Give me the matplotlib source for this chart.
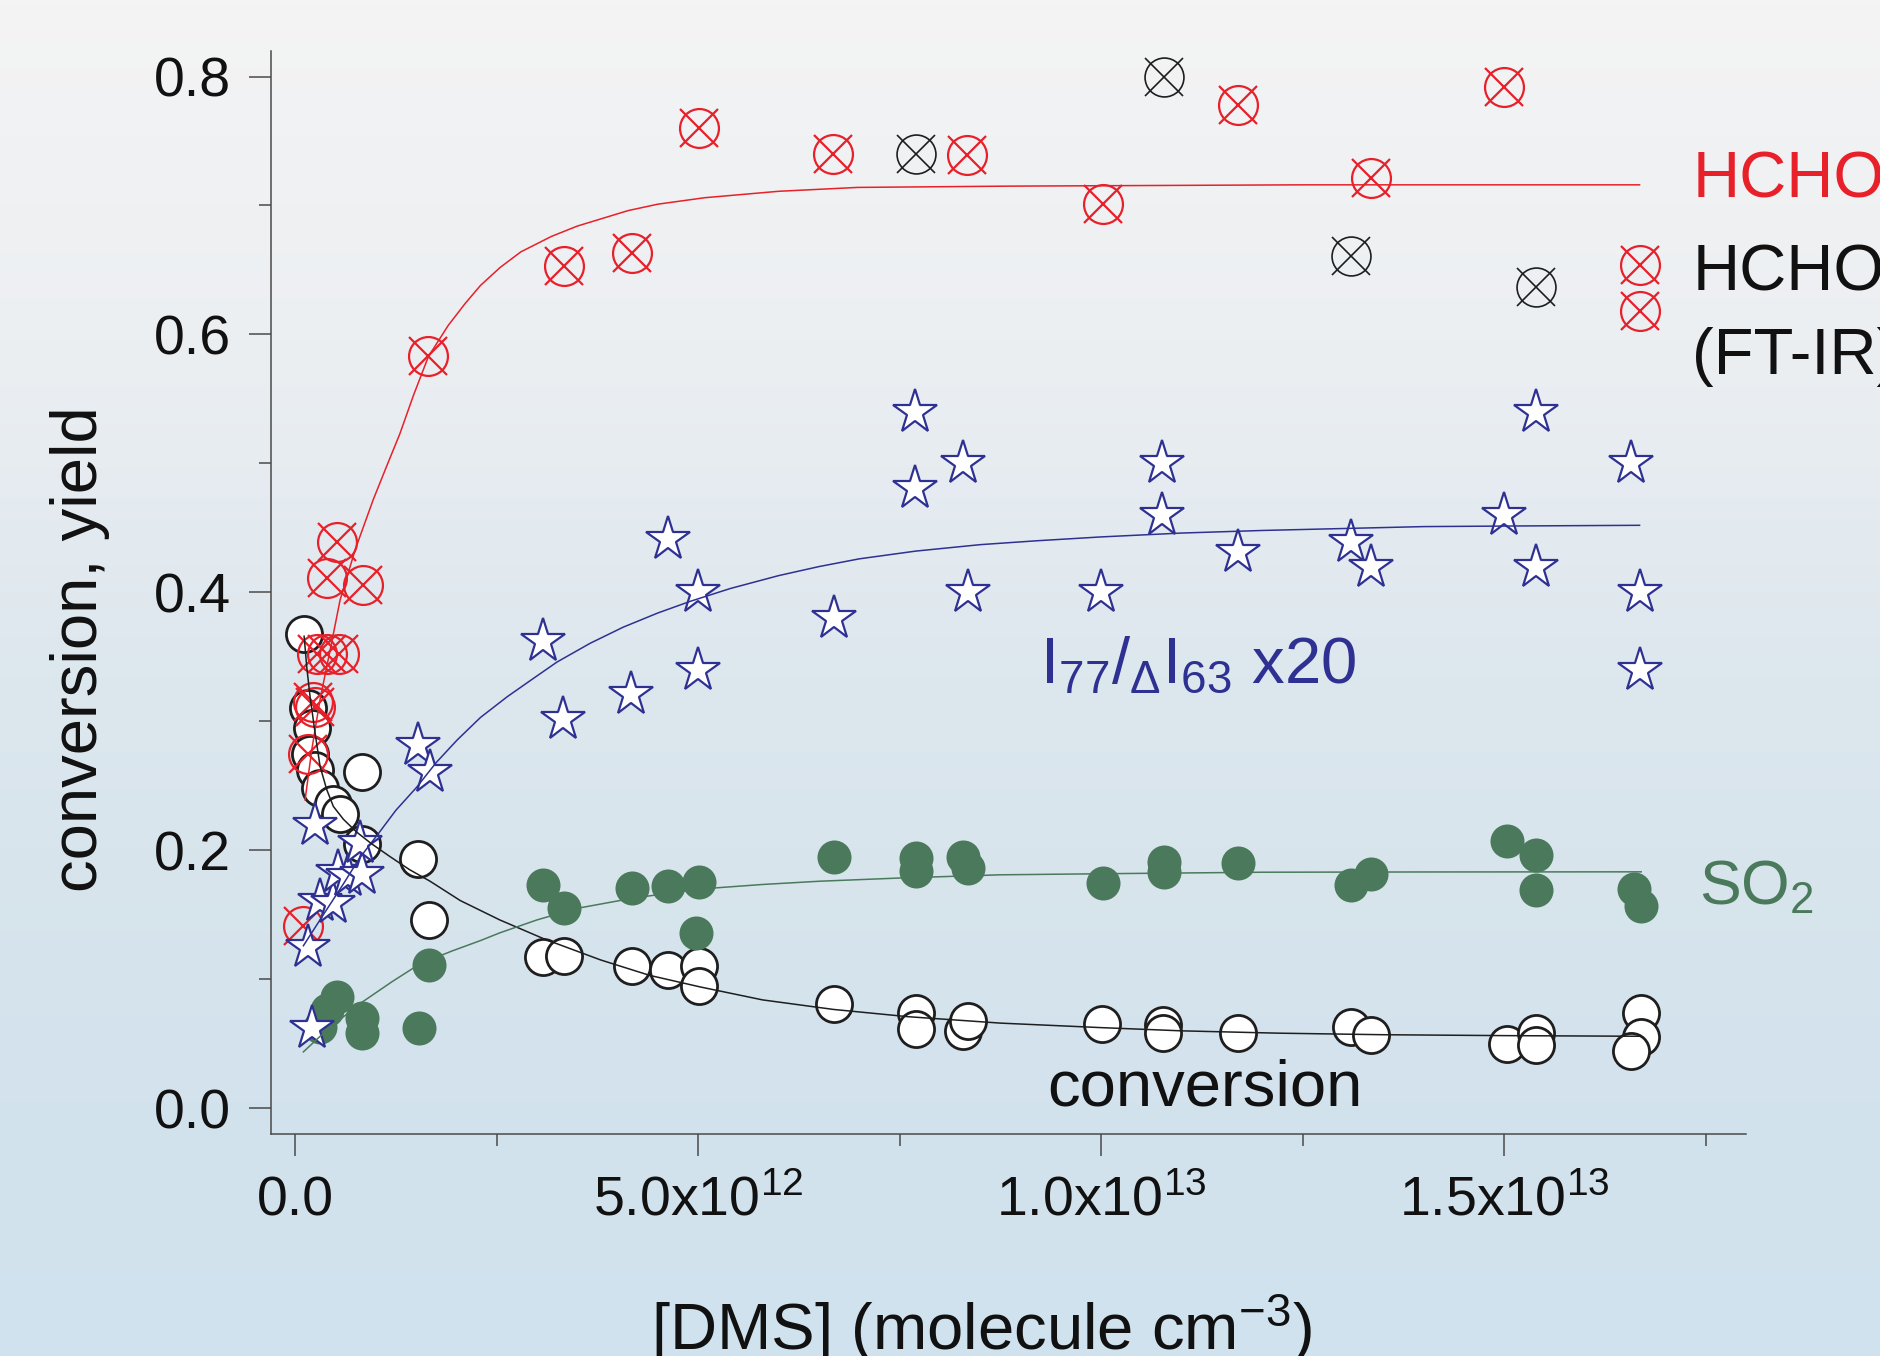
import numpy as np
import matplotlib
matplotlib.use("Agg")
import matplotlib.pyplot as plt
from matplotlib.ticker import FixedLocator

plt.rcParams['font.family'] = ['Liberation Sans', 'DejaVu Sans']
plt.rcParams['mathtext.fontset'] = 'custom'
plt.rcParams['mathtext.rm'] = 'Liberation Sans'
plt.rcParams['mathtext.it'] = 'Liberation Sans:italic'
plt.rcParams['mathtext.bf'] = 'Liberation Sans:bold'

# [DMS] in units of 1e12 molecule cm^-3
# HCHO yield (FT-IR), red crossed circles
hcho_x = [0.103, 0.165, 0.227, 0.248, 0.27, 0.40, 0.55, 0.393, 0.517, 0.848,
          1.655, 3.34, 4.18, 5.01, 6.67, 8.34, 10.02, 11.70, 13.35, 15.0]
hcho_y = [0.141, 0.275, 0.315, 0.311, 0.352, 0.352, 0.352, 0.411, 0.439, 0.406,
          0.583, 0.653, 0.663, 0.760, 0.740, 0.739, 0.701, 0.778, 0.721, 0.792]
# HCHO, second set (black crossed circles)
hcho2_x = [7.70, 10.78, 13.10, 15.39]
hcho2_y = [0.740, 0.800, 0.661, 0.637]

# I77/dI63 x20, blue stars
star_x = [0.207, 0.165, 0.31, 0.475, 0.537, 0.66, 0.828, 0.807, 0.248,
          1.53, 1.675, 3.08, 3.33, 4.17, 4.63, 5.0, 5.0, 6.68, 7.69, 7.69,
          8.29, 8.35, 10.0, 10.76, 10.76, 11.70, 13.10, 13.35, 15.0, 15.39,
          15.39, 16.58, 16.68, 16.68]
star_y = [0.062, 0.125, 0.161, 0.159, 0.183, 0.180, 0.182, 0.206, 0.220,
          0.282, 0.261, 0.362, 0.302, 0.321, 0.441, 0.400, 0.340, 0.380, 0.540, 0.481,
          0.500, 0.400, 0.400, 0.500, 0.460, 0.431, 0.439, 0.420, 0.460, 0.540,
          0.420, 0.500, 0.400, 0.340]

# SO2 yield, green dots
so2_x = [0.31, 0.393, 0.517, 0.828, 0.828, 1.543, 1.667,
         3.08, 3.34, 4.18, 4.63, 5.01, 4.98, 6.68, 7.70, 7.70, 8.29, 8.35,
         10.02, 10.78, 10.78, 11.70, 13.10, 13.35, 15.03, 15.40, 15.40, 16.61, 16.70]
so2_y = [0.063, 0.076, 0.086, 0.070, 0.058, 0.062, 0.111,
         0.173, 0.155, 0.171, 0.172, 0.1755, 0.136, 0.195, 0.194, 0.184, 0.195, 0.186,
         0.175, 0.191, 0.183, 0.190, 0.173, 0.182, 0.207, 0.196, 0.169, 0.170, 0.157]

# DMS conversion, open circles
conv_x = [0.112, 0.165, 0.207, 0.19, 0.248, 0.31, 0.47, 0.56, 0.828, 0.828, 1.53, 1.667,
          3.08, 3.34, 4.18, 4.63, 5.01, 5.01, 6.68, 7.70, 7.70, 8.29, 8.35,
          10.01, 10.77, 10.77, 11.70, 13.10, 13.35, 15.03, 15.40, 15.40, 16.70, 16.70, 16.58]
conv_y = [0.368, 0.310, 0.295, 0.275, 0.262, 0.248, 0.236, 0.228, 0.205, 0.261, 0.193, 0.146,
          0.117, 0.118, 0.110, 0.107, 0.110, 0.095, 0.0805, 0.0741, 0.0618, 0.060, 0.0676,
          0.0652, 0.0644, 0.058, 0.058, 0.063, 0.0566, 0.050, 0.058, 0.049, 0.0737, 0.055, 0.0444]

# fitted curves
fit_hcho_x = [0.124, 0.207, 0.31, 0.434, 0.558, 0.745, 0.97, 1.15, 1.30, 1.47, 1.655,
              1.9, 2.11, 2.3, 2.545, 2.8, 3.18, 3.5, 4.13, 4.5, 5.08, 6.0, 6.98,
              8.87, 12.47, 16.68]
fit_hcho_y = [0.239, 0.278, 0.317, 0.355, 0.394, 0.433, 0.472, 0.500, 0.523, 0.553, 0.583,
              0.607, 0.624, 0.638, 0.652, 0.664, 0.676, 0.684, 0.696, 0.701, 0.706, 0.711, 0.714,
              0.715, 0.716, 0.716]
fit_star_x = [0.103, 0.35, 0.60, 0.80, 1.034, 1.25, 1.51, 1.75, 2.01, 2.3, 2.63, 2.95,
              3.25, 3.66, 4.07, 4.50, 4.90, 5.4, 6.0, 6.5, 7.0, 7.7, 8.5, 9.2, 10.0,
              11.0, 12.0, 13.0, 14.0, 15.2, 16.68]
fit_star_y = [0.126, 0.150, 0.174, 0.194, 0.213, 0.231, 0.249, 0.268, 0.2855, 0.303, 0.319,
              0.333, 0.346, 0.3605, 0.373, 0.384, 0.393, 0.403, 0.413, 0.420, 0.426, 0.432,
              0.437, 0.440, 0.443, 0.446, 0.448, 0.4495, 0.451, 0.4515, 0.452]
fit_conv_x = [0.112, 0.145, 0.186, 0.248, 0.31, 0.393, 0.475, 0.60, 0.766, 0.95, 1.18,
              1.42, 1.675, 2.05, 2.54, 3.1, 3.79, 4.4, 5.03, 5.8, 6.68, 7.6, 8.75,
              10.0, 11.0, 12.2, 13.5, 15.0, 16.70]
fit_conv_y = [0.366, 0.342, 0.319, 0.291, 0.265, 0.247, 0.234, 0.224, 0.214, 0.205, 0.195,
              0.185, 0.176, 0.161, 0.146, 0.131, 0.115, 0.103, 0.094, 0.084, 0.0766, 0.071,
              0.066, 0.0625, 0.060, 0.0582, 0.057, 0.0563, 0.0558]
fit_so2_x = [0.103, 0.40, 0.807, 1.2, 1.55, 1.95, 2.30, 2.54, 3.0, 3.5, 4.2, 5.03,
             5.8, 6.5, 7.5, 8.75, 10.3, 12.0, 14.0, 16.70]
fit_so2_y = [0.0437, 0.061, 0.0812, 0.098, 0.112, 0.122, 0.130, 0.136, 0.146, 0.155,
             0.163, 0.170, 0.1735, 0.176, 0.1785, 0.181, 0.182, 0.183, 0.1832, 0.1833]

# legend markers next to "HCHO (FT-IR)"
legend_x = [16.69, 16.69]
legend_y = [0.654, 0.618]

E12 = 1e12
red = '#e8202a'
blue = '#2e3192'
green = '#4a7a5b'
black = '#1e1e1e'

fig = plt.figure(figsize=(18.8, 13.56), dpi=100)

# sky-like background
bg = fig.add_axes([0, 0, 1, 1], zorder=-10)
stops = np.array([[244, 244, 244], [236, 239, 242], [221, 231, 238],
                  [212, 227, 236], [208, 226, 238]]) / 255.0
t = np.linspace(0, 1, 400)
grad = np.stack([np.interp(t, np.linspace(0, 1, len(stops)), stops[:, i]) for i in range(3)], axis=-1)
bg.imshow(grad[:, None, :], aspect='auto', extent=[0, 1, 0, 1])
bg.set_axis_off()

ax = fig.add_axes([0.1441, 0.1637, 0.7846, 0.7989])
ax.patch.set_alpha(0)

def sx(v):
    return np.asarray(v) * E12

# open circles (conversion)
ax.plot(sx(conv_x), conv_y, 'o', ms=26, mfc='white', mec=black, mew=2.0,
        ls='none', zorder=2, clip_on=False)
# SO2
ax.plot(sx(so2_x), so2_y, 'o', ms=24.5, mfc=green, mec='none', ls='none', zorder=3, clip_on=False)
# HCHO crossed circles
for xs, ys, c, lw in [(hcho_x, hcho_y, red, 1.6), (hcho2_x, hcho2_y, black, 1.2),
                      (legend_x, legend_y, red, 1.6)]:
    ax.plot(sx(xs), ys, 'o', ms=28, mfc='none', mec=c, mew=lw, ls='none', zorder=4, clip_on=False)
    ax.plot(sx(xs), ys, 'x', ms=28, mec=c, mew=lw, ls='none', zorder=4, clip_on=False)
# stars
ax.plot(sx(star_x), star_y, '*', ms=33, mfc='white', mec=blue, mew=1.6,
        ls='none', zorder=5, clip_on=False)

# fit lines
ax.plot(sx(fit_hcho_x), fit_hcho_y, color=red, lw=1.1, zorder=6)
ax.plot(sx(fit_star_x), fit_star_y, color=blue, lw=1.1, zorder=6)
ax.plot(sx(fit_conv_x), fit_conv_y, color=black, lw=1.1, zorder=6)
ax.plot(sx(fit_so2_x), fit_so2_y, color=green, lw=1.1, zorder=6)

ax.set_xlim(-0.3 * E12, 18.0 * E12)
ax.set_ylim(-0.02, 0.82)

for s in ['top', 'right']:
    ax.spines[s].set_visible(False)
for s in ['left', 'bottom']:
    ax.spines[s].set_color('#4a4a4a')
    ax.spines[s].set_linewidth(1.1)

ax.xaxis.set_major_locator(FixedLocator([0, 5e12, 1e13, 1.5e13]))
ax.xaxis.set_minor_locator(FixedLocator([2.5e12, 7.5e12, 1.25e13, 1.75e13]))
ax.set_xticklabels(['0.0', r'$\mathregular{5.0x10^{12}}$',
                    r'$\mathregular{1.0x10^{13}}$', r'$\mathregular{1.5x10^{13}}$'])
ax.yaxis.set_major_locator(FixedLocator([0.0, 0.2, 0.4, 0.6, 0.8]))
ax.yaxis.set_minor_locator(FixedLocator([0.1, 0.3, 0.5, 0.7]))
ax.set_yticklabels(['0.0', '0.2', '0.4', '0.6', '0.8'])

ax.tick_params(axis='both', which='major', length=16, width=1.1, color='#4a4a4a',
               labelsize=40, labelcolor='#111111')
ax.tick_params(axis='both', which='minor', length=8.5, width=1.1, color='#4a4a4a')
ax.tick_params(axis='x', which='major', pad=14)
ax.tick_params(axis='y', which='major', pad=13)

fig.text(0.0426, 0.5214, 'conversion, yield', rotation=90, fontsize=47,
         ha='center', va='center', color='#111111')
fig.text(0.522, 0.0044, r'[DMS] (molecule cm$^{\mathregular{-3}}$)', fontsize=47,
         ha='center', va='baseline', color='#111111')

fig.text(0.9005, 0.854, 'HCHO', fontsize=47, color=red, va='baseline')
fig.text(0.9005, 0.7861, 'HCHO', fontsize=47, color='#111111', va='baseline')
fig.text(0.9000, 0.7245, '(FT-IR)', fontsize=47, color='#111111', va='baseline')
fig.text(0.5532, 0.4963, r'I$_{\mathregular{77}}$/$_{\Delta}$I$_{\mathregular{63}}$ x20',
         fontsize=47, color=blue, va='baseline')
fig.text(0.557, 0.1851, 'conversion', fontsize=47, color='#111111', va='baseline')
fig.text(0.9035, 0.3335, r'SO$_{\mathregular{2}}$', fontsize=45, color=green, va='baseline')

fig.savefig('out.png', dpi=100)
